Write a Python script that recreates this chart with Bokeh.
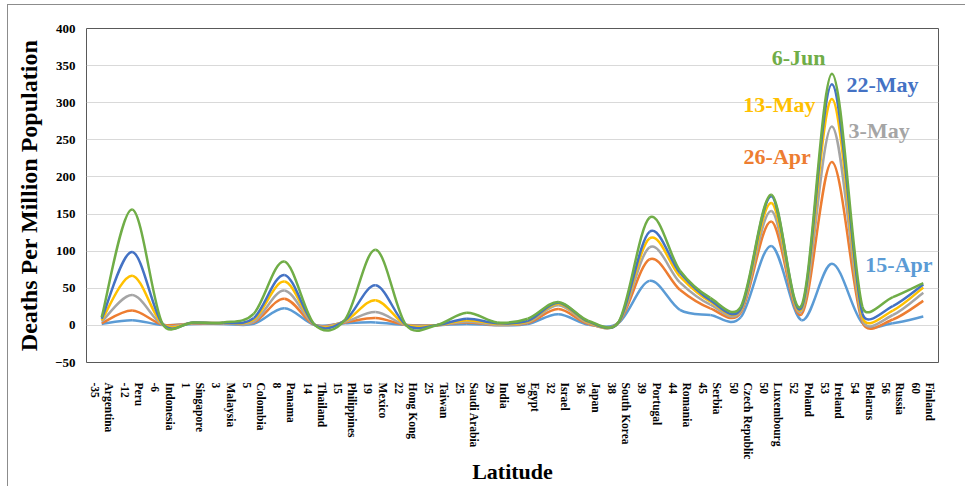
import numpy as np
from bokeh.plotting import figure
from bokeh.models import Range1d, FixedTicker, Label
from bokeh.embed import file_html
from bokeh.resources import INLINE

countries = ["Argentina", "Peru", "Indonesia", "Singapore", "Malaysia", "Colombia", "Panama",
             "Thailand", "Philippines", "Mexico", "Hong Kong", "Taiwan", "Saudi Arabia", "India",
             "Egypt", "Israel", "Japan", "South Korea", "Portugal", "Romania", "Serbia",
             "Czech Republic", "Luxembourg", "Poland", "Ireland", "Belarus", "Russia", "Finland"]
latitudes = ["-35", "-12", "-6", "1", "3", "5", "8", "14", "15", "19", "22", "25", "25", "29",
             "30", "32", "36", "38", "39", "44", "45", "50", "50", "52", "53", "54", "56", "60"]

series_names = ["15-Apr", "26-Apr", "3-May", "13-May", "22-May", "6-Jun"]
apr15 = [2, 7, 0.5, 2, 2, 2, 23, 0.5, 3, 4, 0.5, 0.3, 2, 0.3, 2, 15, 1, 4,
         60, 21, 14, 11, 107, 7, 83, 3, 3, 12]
apr26 = [3, 20, 1, 2.5, 3, 4, 36, 0.7, 4, 10, 0.5, 0.3, 4, 0.6, 3, 22, 2, 4.5,
         89, 48, 23, 17, 140, 15, 220, 4, 8, 33]
may3 = [5, 41, 1, 3, 3, 5, 47, 0.8, 5, 18, 0.5, 0.3, 5, 1, 4, 27, 3, 4.5,
        105, 58, 28, 19, 154, 19, 268, 7, 14, 44]
may13 = [7, 67, 1.5, 3.5, 3.5, 8, 59, 0.8, 6, 34, 0.5, 0.3, 7, 2, 5, 29, 4, 5,
         117, 66, 32, 21, 165, 22, 305, 11, 20, 51]
may22 = [9, 99, 2, 4, 3.5, 10, 68, 0.8, 7, 54, 0.5, 0.3, 9, 3, 6, 30.5, 5, 5,
         126, 71, 34, 22, 174, 24, 325, 16, 26, 55]
jun6 = [11, 156, 2, 4, 4, 16, 86, 0.8, 8, 102, 0.5, 0.3, 17, 4, 9, 31.5, 6, 5.5,
        145, 74, 37, 25, 176, 27, 339, 25, 38, 57]
all_series = [apr15, apr26, may3, may13, may22, jun6]
colors = ["#5B9BD5", "#ED7D31", "#A5A5A5", "#FFC000", "#4472C4", "#70AD47"]

# positions of the series name labels (data coordinates)
label_pos = [(26.2, 82), (22.2, 227), (25.55, 263), (22.27, 297), (25.66, 324), (22.9, 361)]

W, H = 958, 482
ML, MR, MT, MB = 78, 28, 23, 124
p = figure(width=W, height=H, output_backend="svg", toolbar_location=None,
           x_range=Range1d(-0.5, 27.5), y_range=Range1d(-50, 400),
           min_border_left=ML, min_border_right=MR, min_border_top=MT, min_border_bottom=MB)
p.styles = {"margin-left": "7px", "margin-top": "4px",
            "border-left": "1px solid #8c8c8c", "border-top": "1px solid #8c8c8c"}
p.outline_line_color = "#595959"
p.outline_line_width = 1

# approximate screen scale, used only to shape the smoothed (Excel-like) curves
sx = (W - ML - MR) / 28.0
sy = (H - MT - MB) / 450.0


def dist(xa, ya, xb, yb):
    return float(np.hypot((xb - xa) * sx, (yb - ya) * sy))


xs = np.arange(len(countries), dtype=float)
for vals, col in zip(all_series, colors):
    y = np.array(vals, dtype=float)
    n = len(y)
    cx0, cy0, cx1, cy1 = [], [], [], []
    for i in range(n - 1):
        a = max(i - 1, 0)
        b, c = i, i + 1
        d = min(i + 2, n - 1)
        d02 = dist(xs[a], y[a], xs[c], y[c])
        d12 = dist(xs[b], y[b], xs[c], y[c])
        f = 1.0 / 6.0
        if d02 / 6.0 >= d12 / 2.0 and d02 > 0:
            f = (d12 / 2.0) / d02
        cx0.append(xs[b] + (xs[c] - xs[a]) * f)
        cy0.append(y[b] + (y[c] - y[a]) * f)
        d13 = dist(xs[b], y[b], xs[d], y[d])
        f = 1.0 / 6.0
        if d13 / 6.0 >= d12 / 2.0 and d13 > 0:
            f = (d12 / 2.0) / d13
        cx1.append(xs[c] - (xs[d] - xs[b]) * f)
        cy1.append(y[c] - (y[d] - y[b]) * f)
    p.bezier(x0=xs[:-1], y0=y[:-1], x1=xs[1:], y1=y[1:],
             cx0=cx0, cy0=cy0, cx1=cx1, cy1=cy1,
             line_color=col, line_width=2.5)

for name, col, (lx, ly) in zip(series_names, colors, label_pos):
    p.add_layout(Label(x=lx, y=ly, text=name, text_align="center", text_baseline="middle",
                       text_color=col, text_font="Liberation Serif", text_font_style="bold",
                       text_font_size="22px"))

FONT = "Liberation Serif"
p.xaxis.ticker = FixedTicker(ticks=list(range(len(countries))))
p.xaxis.major_label_overrides = {i: f"{c}\n{lat}" for i, (lat, c) in enumerate(zip(latitudes, countries))}
p.xaxis.major_label_orientation = "vertical"
p.xaxis.major_label_text_font = FONT
p.xaxis.major_label_text_font_style = "bold"
p.xaxis.major_label_text_font_size = "11.5px"
p.xaxis.major_label_standoff = 20
p.xaxis.axis_label = "Latitude"
p.xaxis.axis_label_standoff = -3

p.yaxis.ticker = FixedTicker(ticks=list(range(-50, 401, 50)))
p.yaxis.major_label_text_font = FONT
p.yaxis.major_label_text_font_style = "bold"
p.yaxis.major_label_text_font_size = "13px"
p.yaxis.major_label_standoff = 11
p.yaxis.axis_label = "Deaths Per Million Population"
p.yaxis.axis_label_standoff = 10

for ax in (p.xaxis[0], p.yaxis[0]):
    ax.axis_line_color = None
    ax.major_tick_line_color = None
    ax.minor_tick_line_color = None
    ax.major_tick_out = 0
    ax.major_tick_in = 0
    ax.major_label_text_color = "#000000"
    ax.axis_label_text_font = FONT
    ax.axis_label_text_font_style = "bold"
    ax.axis_label_text_color = "#000000"
p.xaxis.axis_label_text_font_size = "22px"
p.yaxis.axis_label_text_font_size = "24px"

p.xgrid.visible = False
p.ygrid.ticker = FixedTicker(ticks=list(range(-50, 401, 50)))
p.ygrid.grid_line_color = "#D9D9D9"
p.ygrid.grid_line_width = 1

open("out.html", "w").write(file_html(p, INLINE))
